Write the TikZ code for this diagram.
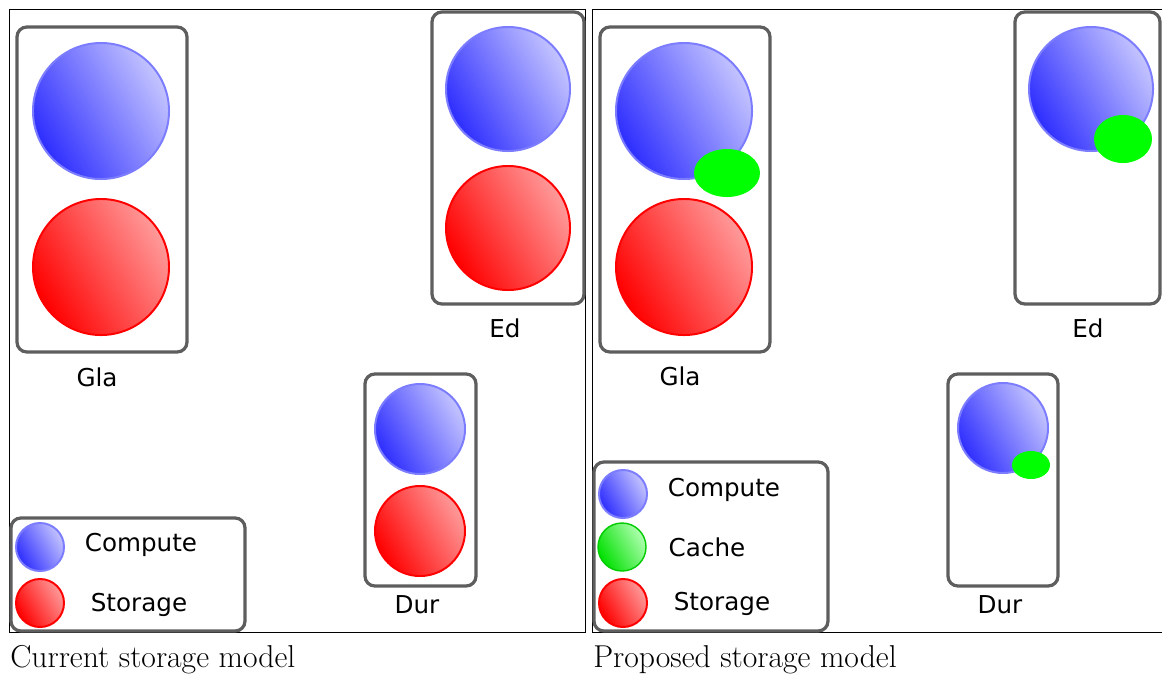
\documentclass[tikz,border=0pt]{standalone}
\usepackage{fontspec}
\usepackage[svgnames]{xcolor}
\usepackage{tikz}
\usetikzlibrary{shapes.geometric}
\newfontfamily\labelfont{DejaVu Sans}
\definecolor{computeDark}{HTML}{2E2EFF}
\definecolor{computeLight}{HTML}{C4C4FF}
\definecolor{computeRim}{HTML}{7C7CFF}
\definecolor{storageDark}{HTML}{FF0000}
\definecolor{storageLight}{HTML}{FF9A9A}
\definecolor{cacheDark}{HTML}{00E000}
\definecolor{cacheLight}{HTML}{B0FFB0}
\colorlet{cacheRim}{Lime!80!black}
\colorlet{hostGrey}{DimGray!90!black}

\begin{document}
\begin{tikzpicture}[
  x=0.025cm, y=-0.025cm,
  compute/.style={circle, draw=computeRim, line width=1.4pt, inner sep=0pt,
    top color=computeLight, bottom color=computeDark, shading angle=-60},
  storage/.style={circle, draw=storageDark, line width=1.4pt, inner sep=0pt,
    top color=storageLight, bottom color=storageDark, shading angle=-60},
  cache/.style={ellipse, fill=Lime, inner sep=0pt},
  cacheKey/.style={circle, draw=cacheRim, line width=1pt, inner sep=0pt,
    top color=cacheLight, bottom color=cacheDark, shading angle=-60},
  hostbox/.style={draw=hostGrey, line width=2.3pt, rounded corners=7pt},
  panel/.style={draw=black, line width=0.7pt},
  hostlabel/.style={font=\labelfont\fontsize{17.5}{21}\selectfont, inner sep=0pt},
  caption/.style={font=\fontsize{22.5}{27}\selectfont, inner sep=0pt, anchor=base west}
]
\useasboundingbox (0,0) rectangle (1162,673);

% current storage model
\draw[panel] (9,9) rectangle (585,632);

\draw[hostbox] (17,27) rectangle (187,352);
\node[compute, minimum size=3.4cm] (glaC) at (101,111) {};
\node[storage, minimum size=3.4cm] (glaS) at (101,267) {};
\node[hostlabel] (glaL) at (97,377) {Gla};

\draw[hostbox] (432,12) rectangle (584,304);
\node[compute, minimum size=3.1cm] (edC) at (508,89) {};
\node[storage, minimum size=3.1cm] (edS) at (508,228) {};
\node[hostlabel] (edL) at (505,328) {Ed};

\draw[hostbox] (365,374) rectangle (476,586);
\node[compute, minimum size=2.25cm] (durC) at (420,429) {};
\node[storage, minimum size=2.25cm] (durS) at (420,531) {};
\node[hostlabel] (durL) at (417,605) {Dur};

\draw[hostbox] (11,518) rectangle (245,631);
\node[compute, minimum size=1.2cm] (keyC) at (40,547) {};
\node[storage, minimum size=1.2cm] (keyS) at (40,603) {};
\node[hostlabel] (keyCL) at (141,545) {Compute};
\node[hostlabel] (keySL) at (139,605) {Storage};

\node[caption] (capCur) at (10,667) {Current storage model};

% proposed storage model
\draw[panel] (1162,9) -- (592,9) -- (592,632) -- (1162,632);

\draw[hostbox] (600,27) rectangle (770,352);
\node[compute, minimum size=3.4cm] (pGlaC) at (684,111) {};
\node[storage, minimum size=3.4cm] (pGlaS) at (684,267) {};
\node[cache, minimum width=1.65cm, minimum height=1.2cm] (pGlaK) at (727,173) {};
\node[hostlabel] (pGlaL) at (680,376) {Gla};

\draw[hostbox] (1015,12) rectangle (1160,304);
\node[compute, minimum size=3.1cm] (pEdC) at (1091,89) {};
\node[cache, minimum width=1.45cm, minimum height=1.2cm] (pEdK) at (1123,139) {};
\node[hostlabel] (pEdL) at (1088,328) {Ed};

\draw[hostbox] (948,374) rectangle (1058,586);
\node[compute, minimum size=2.25cm] (pDurC) at (1003,428) {};
\node[cache, minimum width=0.95cm, minimum height=0.7cm] (pDurK) at (1031,465) {};
\node[hostlabel] (pDurL) at (1000,605) {Dur};

\draw[hostbox] (594,462) rectangle (828,631);
\node[compute, minimum size=1.2cm] (pKeyC) at (623,494) {};
\node[cacheKey, minimum size=1.2cm] (pKeyK) at (622,547) {};
\node[storage, minimum size=1.2cm] (pKeyS) at (623,603) {};
\node[hostlabel] (pKeyCL) at (724,490) {Compute};
\node[hostlabel] (pKeyKL) at (707,547) {Cache};
\node[hostlabel] (pKeySL) at (722,604) {Storage};

\node[caption] (capProp) at (593,667) {Proposed storage model};
\end{tikzpicture}
\end{document}
